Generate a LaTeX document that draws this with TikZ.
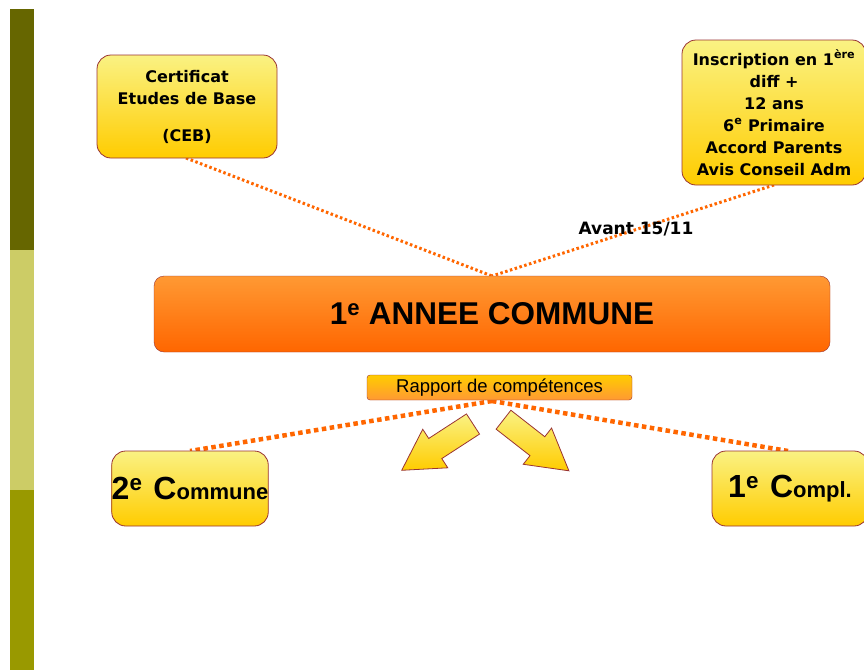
\documentclass[tikz,border=0pt]{standalone}
\usepackage{fontspec}
\setmainfont{DejaVu Sans}
\newfontfamily\arialfont{Liberation Sans}
\usetikzlibrary{positioning}

\definecolor{barDark}{HTML}{666600}
\definecolor{barLight}{HTML}{CCCC66}
\definecolor{barMid}{HTML}{999900}
\definecolor{boxLine}{HTML}{993333}
\definecolor{yelTop}{HTML}{FAF283}
\definecolor{yelBot}{HTML}{FFCC00}
\definecolor{oraTop}{HTML}{FF9933}
\definecolor{oraBot}{HTML}{FF6600}
\definecolor{dotLine}{HTML}{FF6600}

\begin{document}
\begin{tikzpicture}[x=1pt,y=-1pt]
    % boxes and lines
    \tikzset{yellowbox/.style = {draw=boxLine, thick, rounded corners=14pt,
        top color=yelTop, bottom color=yelBot, align=center, inner sep=0pt,
        font=\bfseries\fontsize{16}{22}\selectfont}}
    \tikzset{orangebox/.style = {draw=boxLine, rounded corners=10pt,
        top color=oraTop, bottom color=oraBot, inner sep=0pt,
        font=\arialfont\bfseries\fontsize{31.5}{31.5}\selectfont}}
    \tikzset{smallbox/.style = {draw=boxLine, rounded corners=3pt,
        top color=yelBot, bottom color=oraTop, inner sep=0pt,
        font=\arialfont\fontsize{18.5}{18.5}\selectfont}}
    \tikzset{topdots/.style = {dotLine, line width=3pt, dash pattern=on 2.5pt off 2.5pt}}
    \tikzset{lowdots/.style = {dotLine, line width=4.5pt, dash pattern=on 4.5pt off 3.5pt}}
    \tikzset{blockarrow/.style = {draw=boxLine, thick, top color=yelTop, bottom color=yelBot}}

    \useasboundingbox (0,0) rectangle (864,670);

    % side bar
    \fill[barDark]  (10,9)   rectangle (34,250);
    \fill[barLight] (10,250) rectangle (34,490);
    \fill[barMid]   (10,490) rectangle (34,670);

    % lines behind the boxes
    \coordinate (ceblow) at (186,158);
    \coordinate (condlow) at (774,185);
    \coordinate (annetop) at (492,276);
    \coordinate (rapplow) at (492,401);
    \draw[topdots] (ceblow) -- (annetop);
    \draw[topdots] (condlow) -- (annetop);
    \coordinate (commtop) at (190,451);
    \coordinate (compltop) at (788,451);
    \draw[lowdots] (rapplow) -- (commtop);
    \draw[lowdots] (rapplow) -- (compltop);

    % entry conditions
    \node[yellowbox, minimum width=180, minimum height=103] (ceb) at (187,106.5)
        {Certificat\\Etudes de Base\\[15pt](CEB)};
    \node[yellowbox, minimum width=184, minimum height=145] (cond) at (774,112.5)
        {Inscription en 1\textsuperscript{ère}\\diff +\\12 ans\\6\textsuperscript{e} Primaire\\Accord Parents\\Avis Conseil Adm};
    \node[font=\bfseries\fontsize{17}{17}\selectfont] (avant) at (636,229) {Avant 15/11};

    % first year
    \node[orangebox, minimum width=676, minimum height=76] (annee) at (492,314)
        {1\textsuperscript{e} ANNEE COMMUNE};
    \node[smallbox, minimum width=265, minimum height=25] (rapport) at (499.5,387.5)
        {Rapport de compétences};

    % arrows
    \begin{scope}[shift={(473,424)}, rotate=213]
        \draw[blockarrow] (0,-12) -- (45,-12) -- (45,-23) -- (85,0)
            -- (45,23) -- (45,12) -- (0,12) -- cycle;
    \end{scope}
    \begin{scope}[shift={(503.5,419.7)}, rotate=-38]
        \draw[blockarrow] (0,-12) -- (43,-12) -- (43,-23) -- (83,0)
            -- (43,23) -- (43,12) -- (0,12) -- cycle;
    \end{scope}

    % second year
    \node[yellowbox, minimum width=156, minimum height=75] (commune) at (190,488.5)
        {\arialfont\bfseries\fontsize{32}{32}\selectfont 2\textsuperscript{e}\hspace{11pt}C\fontsize{22}{22}\selectfont ommune};
    \node[yellowbox, minimum width=156, minimum height=75] (compl) at (790,488.5)
        {\arialfont\bfseries\fontsize{32}{32}\selectfont 1\textsuperscript{e}\hspace{11pt}C\fontsize{22}{22}\selectfont ompl.};
\end{tikzpicture}
\end{document}
